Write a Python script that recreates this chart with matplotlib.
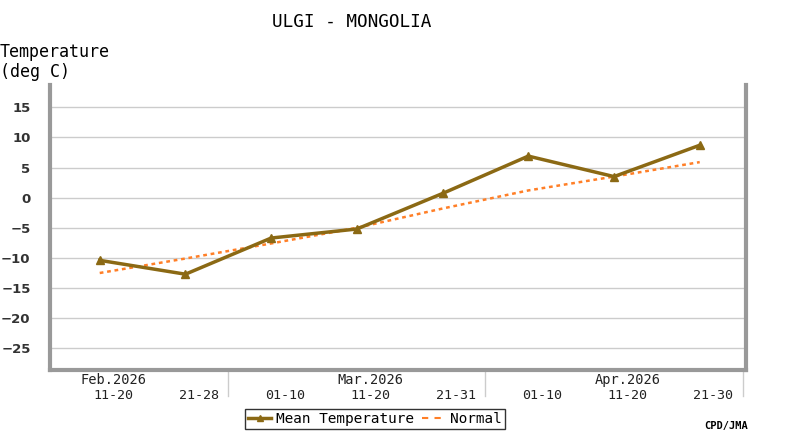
import matplotlib
matplotlib.use("Agg")
import matplotlib.pyplot as plt
from matplotlib.lines import Line2D

# dekads shown on the x axis
dekads = ["11-20", "21-28", "01-10", "11-20", "21-31", "01-10", "11-20", "21-30"]
months = {0: "Feb.2026", 3: "Mar.2026", 6: "Apr.2026"}
mean_temp = [-10.4, -12.7, -6.7, -5.2, 0.7, 6.9, 3.5, 8.7]
normal_temp = [-12.5, -10.1, -7.6, -5.0, -1.8, 1.2, 3.5, 5.9]
yticks = [15, 10, 5, 0, -5, -10, -15, -20, -25]

mono = "DejaVu Sans Mono"
brown = "#8b6914"
orange = "#ff7f27"
spine_grey = "#999999"

fig = plt.figure(figsize=(8, 4.4), dpi=100)
ax = fig.add_axes([50 / 800, 1 - 370 / 440, 696 / 800, 285 / 440])

x = list(range(len(dekads)))
ax.plot(x, normal_temp, color=orange, lw=1.8, ls=(0, (1.5, 1.5)), zorder=3)
ax.plot(x, mean_temp, color=brown, lw=2.5, marker="^", ms=6, zorder=4)

ax.set_xlim(-0.58, 7.54)
ax.set_ylim(-28.6, 18.7)
ax.set_yticks(yticks)
ax.set_yticklabels([str(v).replace("-", "\u2212") for v in yticks],
                   fontsize=9.5, fontweight="bold", color="#333333")
ax.tick_params(axis="y", length=0, pad=14)
ax.set_xticks([])
ax.yaxis.grid(True, color="#cccccc", lw=1)
ax.set_axisbelow(True)

for s in ["left", "bottom", "right"]:
    ax.spines[s].set_color(spine_grey)
    ax.spines[s].set_linewidth(3)
ax.spines["top"].set_visible(False)

# month separators below the axis
for b in [1.5, 4.5, 7.5]:
    ax.plot([b, b], [0, -0.09], transform=ax.get_xaxis_transform(),
            color="#cccccc", lw=1, clip_on=False)

# dekad and month labels
px = 1 / 285
for i, d in enumerate(dekads):
    ax.text(i + 0.16, -25 * px, d, transform=ax.get_xaxis_transform(),
            ha="center", va="center", fontsize=9.6, family=mono, color="#222222")
    if i in months:
        ax.text(i + 0.16, -10 * px, months[i], transform=ax.get_xaxis_transform(),
                ha="center", va="center", fontsize=9.8, family=mono, color="#222222")

fig.text(352 / 800, 1 - 22 / 440, "ULGI - MONGOLIA", ha="center", va="center",
         fontsize=12.7, family=mono)
fig.text(0.0, 1 - 52 / 440, "Temperature", ha="left", va="center",
         fontsize=12, family=mono)
fig.text(0.0, 1 - 72 / 440, "(deg C)", ha="left", va="center",
         fontsize=12, family=mono)
fig.text(748 / 800, 1 - 426 / 440, "CPD/JMA", ha="right", va="center",
         fontsize=7.5, fontweight="bold", family=mono)

handles = [Line2D([], [], color=brown, lw=2.5, marker="^", ms=5),
           Line2D([], [], color=orange, lw=1.5, ls=(0, (3, 3)))]
leg = fig.legend(handles, ["Mean Temperature", "Normal"], loc="center",
                 bbox_to_anchor=(375 / 800, 1 - 419 / 440), ncol=2,
                 frameon=True, fancybox=False, handlelength=1.6,
                 handletextpad=0.3, columnspacing=0.6, borderpad=0.2,
                 prop={"family": mono, "size": 10.4})
leg.get_frame().set_edgecolor("black")
leg.get_frame().set_linewidth(1)

fig.savefig("out.png", dpi=100)
